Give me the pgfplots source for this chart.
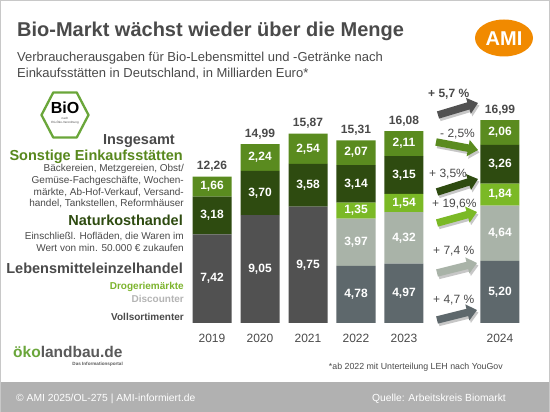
\documentclass[border=0pt]{standalone}
\usepackage{fontspec}
\setmainfont{Liberation Sans}
\usepackage{pgfplots}
\pgfplotsset{compat=1.18}
\usepackage{pgfplotstable}
\usetikzlibrary{arrows.meta}

\definecolor{txtgray}{HTML}{4A4A4A}
\definecolor{lehdark}{HTML}{515151}
\definecolor{voll}{HTML}{5E686C}
\definecolor{disc}{HTML}{A9B3A8}
\definecolor{drog}{HTML}{7BB926}
\definecolor{nat}{HTML}{2E4B10}
\definecolor{sons}{HTML}{5A8B1F}
\definecolor{sonstext}{HTML}{58881D}
\definecolor{drogtext}{HTML}{7DB42E}
\definecolor{disctext}{HTML}{B4B4B4}
\definecolor{footgray}{HTML}{B1B1B1}
\definecolor{framegray}{HTML}{C8C8C8}
\definecolor{amiorange}{HTML}{F18A00}
\definecolor{biogreen}{HTML}{6AA63A}
\definecolor{okogray}{HTML}{5A5A5A}

% Consumer spending on organic food by outlet, bn EUR
\pgfplotstableread{
x  leh   voll  disc  drog  nat   sons
0  7.42  0     0     0     3.18  1.66
1  9.05  0     0     0     3.70  2.24
2  9.75  0     0     0     3.58  2.54
3  0     4.78  3.97  1.35  3.14  2.07
4  0     4.97  4.32  1.54  3.15  2.11
6  0     5.20  4.64  1.84  3.26  2.06
}\spending

\begin{document}
\begin{tikzpicture}[
  seg/.style={text=white, font=\bfseries\fontsize{12}{14}\selectfont},
  tot/.style={anchor=base, yshift=7pt, text=txtgray,
    font=\bfseries\fontsize{12}{14}\selectfont},
]
\fill[white] (0,0) rectangle (550pt,412pt);

\begin{axis}[
  at={(188pt,89pt)}, anchor=south west,
  scale only axis, width=336pt, height=238.6pt,
  xmin=-0.5, xmax=6.5, ymin=0, ymax=20,
  ybar stacked, bar width=39pt,
  axis line style={draw=none}, tick style={draw=none},
  ytick=\empty,
  xtick={0,1,2,3,4,6},
  xticklabels={2019,2020,2021,2022,2023,2024},
  xticklabel style={anchor=base, yshift=-20pt, text=txtgray,
    font=\fontsize{12}{14}\selectfont},
  clip=false,
  % value labels go on top of the finished bars
  after end axis/.code={
    \node[seg] at (axis cs:0,3.71) {7,42};
    \node[seg] at (axis cs:0,9.01) {3,18};
    \node[seg] at (axis cs:0,11.43) {1,66};
    \node[seg] at (axis cs:1,4.525) {9,05};
    \node[seg] at (axis cs:1,10.90) {3,70};
    \node[seg] at (axis cs:1,13.87) {2,24};
    \node[seg] at (axis cs:2,4.875) {9,75};
    \node[seg] at (axis cs:2,11.54) {3,58};
    \node[seg] at (axis cs:2,14.60) {2,54};
    \node[seg] at (axis cs:3,2.39) {4,78};
    \node[seg] at (axis cs:3,6.765) {3,97};
    \node[seg] at (axis cs:3,9.425) {1,35};
    \node[seg] at (axis cs:3,11.67) {3,14};
    \node[seg] at (axis cs:3,14.275) {2,07};
    \node[seg] at (axis cs:4,2.485) {4,97};
    \node[seg] at (axis cs:4,7.13) {4,32};
    \node[seg] at (axis cs:4,10.06) {1,54};
    \node[seg] at (axis cs:4,12.405) {3,15};
    \node[seg] at (axis cs:4,15.035) {2,11};
    \node[seg] at (axis cs:6,2.60) {5,20};
    \node[seg] at (axis cs:6,7.52) {4,64};
    \node[seg] at (axis cs:6,10.76) {1,84};
    \node[seg] at (axis cs:6,13.31) {3,26};
    \node[seg] at (axis cs:6,15.97) {2,06};
    \node[tot] at (axis cs:0,12.26) {12,26};
    \node[tot] at (axis cs:1,14.99) {14,99};
    \node[tot] at (axis cs:2,15.87) {15,87};
    \node[tot] at (axis cs:3,15.31) {15,31};
    \node[tot] at (axis cs:4,16.09) {16,08};
    \node[tot] at (axis cs:6,17.00) {16,99};
  },
]
\addplot[fill=lehdark, draw=none] table[x=x, y=leh] {\spending};
\addplot[fill=voll, draw=none] table[x=x, y=voll] {\spending};
\addplot[fill=disc, draw=none] table[x=x, y=disc] {\spending};
\addplot[fill=drog, draw=none] table[x=x, y=drog] {\spending};
\addplot[fill=nat, draw=none] table[x=x, y=nat] {\spending};
\addplot[fill=sons, draw=none] table[x=x, y=sons] {\spending};
\end{axis}

\begin{scope}[x=1pt, y=-1pt, shift={(0pt,412pt)},
  hd/.style={anchor=base east, inner sep=0, font=\bfseries\fontsize{14.5}{16}\selectfont},
  sm/.style={anchor=base east, inner sep=0, text=txtgray, font=\fontsize{10}{12}\selectfont},
  sb/.style={anchor=base east, inner sep=0, font=\bfseries\fontsize{10}{12}\selectfont},
  pct/.style={anchor=base west, inner sep=0, text=txtgray, font=\fontsize{12}{14}\selectfont},
  arr/.style={line width=7.5pt, -{Triangle[length=10pt, width=16pt]}},
  shd/.style={arr, draw=black!22, shift={(1.5,2.5)}},
]
% title block
\node[anchor=base west, inner sep=0, text=txtgray,
  font=\bfseries\fontsize{20}{24}\selectfont] at (17,37)
  {Bio-Markt wächst wieder über die Menge};
\node[anchor=base west, inner sep=0, text=txtgray,
  font=\fontsize{13}{16}\selectfont] at (17,62)
  {Verbraucherausgaben für Bio-Lebensmittel und -Getränke nach};
\node[anchor=base west, inner sep=0, text=txtgray,
  font=\fontsize{13}{16}\selectfont] at (17,78)
  {Einkaufsstätten in Deutschland, in Milliarden Euro*};

% AMI logo
\fill[amiorange] (504,38) ellipse [x radius=29pt, y radius=18.5pt];
\node[text=white, font=\bfseries\fontsize{20}{20}\selectfont] at (504,38.5) {AMI};

% organic seal
\draw[biogreen, line width=2.3pt, fill=white, line join=round]
  (41.5,115) -- (53.25,92.5) -- (76.75,92.5) -- (88.5,115)
  -- (76.75,137.5) -- (53.25,137.5) -- cycle;
\node[font=\bfseries\fontsize{16}{16}\selectfont] at (65,108) {BiO};
\node[align=center, inner sep=0, text=black!70,
  font=\fontsize{3}{3.6}\selectfont] at (65,121) {nach\\EG-Öko-Verordnung};

% legend text
\node[hd, text=txtgray] at (175,145) {Insgesamt};
\node[hd, text=sonstext] at (183,161) {Sonstige Einkaufsstätten};
\node[sm] at (184,172) {Bäckereien, Metzgereien, Obst/};
\node[sm] at (184,184) {Gemüse-Fachgeschäfte, Wochen-};
\node[sm] at (184,196) {märkte, Ab-Hof-Verkauf, Versand-};
\node[sm] at (184,207) {handel, Tankstellen, Reformhäuser};
\node[hd, text=nat] at (183,226) {Naturkosthandel};
\node[sm] at (184,240) {Einschließl. Hofläden, die Waren im};
\node[sm] at (184,252) {Wert von min. 50.000 € zukaufen};
\node[hd, text=txtgray] at (183,274) {Lebensmitteleinzelhandel};
\node[sb, text=drogtext] at (184,290) {Drogeriemärkte};
\node[sb, text=disctext] at (184,303) {Discounter};
\node[sb, text=txtgray] at (184,321) {Vollsortimenter};

% change 2023 -> 2024
\draw[shd] (438,115) -- (478,103);
\draw[arr, draw=lehdark] (438,115) -- (478,103);
\draw[shd] (436,142) -- (478,150);
\draw[arr, draw=sons] (436,142) -- (478,150);
\draw[shd] (437,192) -- (478,179);
\draw[arr, draw=nat] (437,192) -- (478,179);
\draw[shd] (437,223) -- (477,212);
\draw[arr, draw=drog] (437,223) -- (477,212);
\draw[shd] (437,273) -- (477,263);
\draw[arr, draw=disc] (437,273) -- (477,263);
\draw[shd] (437,320) -- (477,310);
\draw[arr, draw=voll] (437,320) -- (477,310);

\node[pct, font=\bfseries\fontsize{12}{14}\selectfont] at (428,98) {+ 5,7 \%};
\node[pct] at (440,138) {- 2,5\%};
\node[pct] at (429,178) {+ 3,5\%};
\node[pct] at (432,208) {+ 19,6\%};
\node[pct] at (433,255) {+ 7,4 \%};
\node[pct] at (433,304) {+ 4,7 \%};

% portal logo
\node[anchor=base west, inner sep=0, font=\bfseries\fontsize{15.5}{16}\selectfont]
  at (13,358) {\textcolor{biogreen}{öko}\textcolor{okogray}{landbau.de}};
\node[anchor=base east, inner sep=0, text=okogray,
  font=\bfseries\fontsize{4.6}{5}\selectfont] at (123,366) {Das Informationsportal};

% footnote
\node[anchor=base east, inner sep=0, text=txtgray,
  font=\fontsize{8.8}{10}\selectfont] at (503,370)
  {*ab 2022 mit Unterteilung LEH nach YouGov};

% footer
\fill[footgray] (0,382) rectangle (550,412);
\node[anchor=base west, inner sep=0, text=white,
  font=\fontsize{10.3}{12}\selectfont] at (16,402)
  {© AMI 2025/OL-275 | AMI-informiert.de};
\node[anchor=base east, inner sep=0, text=white,
  font=\fontsize{10.3}{12}\selectfont] at (506,402)
  {Quelle: Arbeitskreis Biomarkt};

% frame
\draw[framegray, line width=1.2pt] (0.6,412) -- (0.6,0.6) -- (549.4,0.6) -- (549.4,412);
\end{scope}

\pgfresetboundingbox
\path (0,0) rectangle (550pt,412pt);
\end{tikzpicture}
\end{document}
